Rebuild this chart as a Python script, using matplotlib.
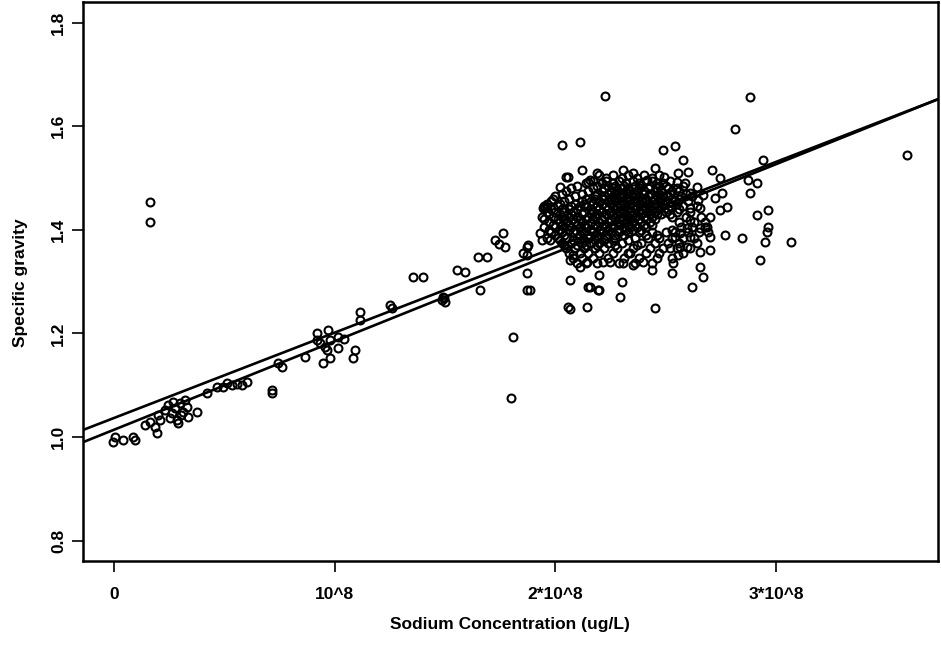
import numpy as np
import matplotlib
matplotlib.use("Agg")
import matplotlib.pyplot as plt

plt.rcParams['font.family'] = ['Liberation Sans', 'DejaVu Sans']

# sodium (units of 10^8 ug/L) and specific gravity
low_x = [-0.005, 0.005, 0.04, 0.086, 0.095, 0.14, 0.163, 0.186, 0.195, 0.21, 0.20,
         0.23, 0.245, 0.263, 0.276, 0.285, 0.29, 0.30, 0.313, 0.33, 0.335, 0.32, 0.267,
         0.254, 0.305, 0.376, 0.42, 0.467, 0.494, 0.535, 0.58, 0.603, 0.51, 0.557,
         0.716, 0.716, 0.745, 0.76, 0.865]
low_y = [0.990, 1.000, 0.994, 1.000, 0.994, 1.023, 1.029, 1.020, 1.008, 1.033, 1.042,
         1.052, 1.062, 1.046, 1.056, 1.033, 1.027, 1.066, 1.048, 1.058, 1.039, 1.071, 1.068,
         1.037, 1.043, 1.048, 1.085, 1.097, 1.097, 1.100, 1.100, 1.106, 1.104, 1.102,
         1.091, 1.085, 1.143, 1.135, 1.154]

mid_x = [0.163, 0.163,
         0.92, 0.92, 0.933, 0.97, 0.979, 1.015, 1.04, 1.015, 0.965, 0.979, 0.947, 1.092,
         1.083, 0.956, 1.115, 1.115, 1.25, 1.26, 1.355, 1.40, 1.49, 1.50, 1.486, 1.495,
         1.554, 1.59, 1.658, 1.65, 1.69, 1.726, 1.763, 1.77, 1.745, 1.81, 1.80,
         1.87, 1.87, 1.87, 1.87, 1.885, 1.853, 1.876]
mid_y = [1.454, 1.415,
         1.200, 1.187, 1.181, 1.207, 1.187, 1.193, 1.190, 1.172, 1.168, 1.152, 1.143, 1.168,
         1.152, 1.174, 1.241, 1.226, 1.255, 1.249, 1.309, 1.309, 1.270, 1.261, 1.264, 1.268,
         1.322, 1.319, 1.284, 1.347, 1.347, 1.380, 1.394, 1.367, 1.372, 1.193, 1.075,
         1.367, 1.351, 1.317, 1.284, 1.284, 1.355, 1.371]

# dense cluster, listed row by row (gravity level, sodium values)
core_y = [1.505, 1.495, 1.485, 1.475, 1.465, 1.455, 1.445, 1.435, 1.425, 1.415,
          1.405, 1.395, 1.385, 1.375, 1.365, 1.355, 1.345, 1.335,
          1.500, 1.490, 1.480, 1.470, 1.460, 1.450, 1.440, 1.430, 1.420, 1.410,
          1.400, 1.390, 1.380, 1.370]
core_rows = [
    [2.20, 2.26, 2.33, 2.40, 2.47],
    [2.17, 2.23, 2.29, 2.35, 2.41, 2.44, 2.52],
    [2.10, 2.19, 2.24, 2.27, 2.31, 2.36, 2.39, 2.43, 2.47, 2.50, 2.58],
    [2.05, 2.15, 2.21, 2.25, 2.28, 2.32, 2.34, 2.37, 2.40, 2.45, 2.48, 2.53, 2.56],
    [2.00, 2.09, 2.18, 2.22, 2.26, 2.29, 2.31, 2.35, 2.38, 2.42, 2.46, 2.49, 2.51, 2.57, 2.62],
    [1.98, 2.04, 2.12, 2.16, 2.20, 2.24, 2.27, 2.30, 2.33, 2.36, 2.39, 2.41, 2.44, 2.47,
     2.50, 2.54, 2.60],
    [1.95, 2.01, 2.07, 2.11, 2.14, 2.19, 2.23, 2.26, 2.28, 2.32, 2.35, 2.37, 2.40, 2.43,
     2.46, 2.48, 2.52, 2.58, 2.64],
    [1.96, 2.00, 2.04, 2.08, 2.13, 2.17, 2.21, 2.25, 2.29, 2.31, 2.34, 2.38, 2.42, 2.45,
     2.50, 2.55, 2.61],
    [1.94, 1.99, 2.03, 2.06, 2.10, 2.15, 2.18, 2.22, 2.27, 2.30, 2.33, 2.36, 2.40, 2.44,
     2.53, 2.59, 2.66],
    [1.97, 2.02, 2.05, 2.09, 2.12, 2.16, 2.20, 2.24, 2.28, 2.32, 2.35, 2.39, 2.43, 2.56, 2.63],
    [1.95, 2.00, 2.04, 2.07, 2.11, 2.14, 2.19, 2.23, 2.26, 2.31, 2.34, 2.37, 2.41, 2.57,
     2.62, 2.68],
    [1.98, 2.03, 2.08, 2.13, 2.17, 2.21, 2.25, 2.29, 2.33, 2.38, 2.44, 2.50, 2.54, 2.60, 2.65],
    [1.96, 2.01, 2.05, 2.10, 2.15, 2.19, 2.23, 2.27, 2.36, 2.42, 2.47, 2.53, 2.58, 2.63],
    [2.03, 2.07, 2.12, 2.16, 2.20, 2.24, 2.30, 2.39, 2.45, 2.51, 2.56, 2.64],
    [2.05, 2.09, 2.13, 2.18, 2.22, 2.28, 2.35, 2.43, 2.49, 2.55, 2.61],
    [2.06, 2.11, 2.15, 2.20, 2.26, 2.33, 2.41, 2.47, 2.58],
    [2.08, 2.12, 2.17, 2.24, 2.31, 2.38, 2.46, 2.53],
    [2.10, 2.14, 2.19, 2.29, 2.36, 2.44],
    [2.23, 2.30, 2.37, 2.44],
    [2.14, 2.21, 2.26, 2.32, 2.38, 2.46, 2.49],
    [2.07, 2.17, 2.22, 2.26, 2.30, 2.33, 2.38, 2.42, 2.46, 2.51, 2.55],
    [2.03, 2.12, 2.19, 2.24, 2.27, 2.30, 2.33, 2.36, 2.40, 2.43, 2.47, 2.52, 2.59],
    [1.99, 2.06, 2.14, 2.18, 2.22, 2.25, 2.28, 2.32, 2.34, 2.37, 2.41, 2.45, 2.48, 2.53, 2.56],
    [1.96, 2.02, 2.09, 2.13, 2.17, 2.21, 2.25, 2.29, 2.31, 2.34, 2.38, 2.42, 2.45, 2.49, 2.55],
    [1.98, 2.03, 2.06, 2.10, 2.16, 2.20, 2.24, 2.27, 2.30, 2.33, 2.36, 2.39, 2.41, 2.44,
     2.47, 2.51, 2.56],
    [1.97, 2.02, 2.07, 2.12, 2.16, 2.19, 2.23, 2.26, 2.28, 2.32, 2.35, 2.39, 2.43, 2.46,
     2.48, 2.52],
    [1.95, 2.01, 2.04, 2.08, 2.11, 2.14, 2.17, 2.21, 2.25, 2.29, 2.31, 2.34, 2.38, 2.41, 2.45],
    [1.99, 2.03, 2.06, 2.10, 2.13, 2.18, 2.22, 2.26, 2.29, 2.33, 2.36, 2.40, 2.44],
    [1.97, 2.02, 2.06, 2.09, 2.12, 2.16, 2.20, 2.24, 2.28, 2.32, 2.35, 2.39, 2.53],
    [2.00, 2.04, 2.11, 2.15, 2.19, 2.23, 2.27, 2.31, 2.41, 2.46],
    [2.02, 2.08, 2.13, 2.18, 2.22, 2.26, 2.33],
    [2.04, 2.10, 2.14, 2.19, 2.27, 2.37],
]

outer_x = [2.225, 2.882, 2.814, 3.593, 2.03, 2.11, 2.488, 2.542, 2.94, 2.578,
           2.057, 2.065, 2.143, 2.45, 2.066, 2.148, 2.193, 2.20, 2.30, 2.293,
           2.62, 2.67, 2.655, 2.44, 2.528, 2.533, 2.927, 3.07, 2.95, 2.96, 2.963,
           2.913, 2.963, 2.845, 2.77, 2.873, 2.913, 2.88, 2.746, 2.755, 2.71, 2.78,
           2.746, 2.70, 2.687, 2.70, 2.70, 2.655, 2.61, 2.61, 2.655, 2.596, 2.555,
           1.93, 1.94, 1.975, 1.944, 1.962, 1.953, 2.02, 2.057, 2.05, 2.12, 2.157,
           2.19, 2.148, 2.306, 2.35, 2.45, 2.494, 2.555, 2.60, 2.55, 2.415,
           2.066, 2.11, 2.143, 2.216, 2.247, 2.306, 2.35, 2.397, 2.338, 2.08,
           2.61, 2.678, 2.655, 2.69, 2.596, 2.565, 2.542, 2.565, 2.52, 2.64, 2.67,
           2.61, 2.587, 2.646, 2.157, 2.20, 2.725]
outer_y = [1.658, 1.656, 1.595, 1.544, 1.564, 1.570, 1.554, 1.562, 1.535, 1.535,
           1.251, 1.247, 1.251, 1.249, 1.303, 1.290, 1.284, 1.313, 1.300, 1.270,
           1.290, 1.309, 1.328, 1.322, 1.317, 1.336, 1.342, 1.376, 1.376, 1.396, 1.405,
           1.429, 1.438, 1.384, 1.390, 1.496, 1.490, 1.471, 1.500, 1.471, 1.515, 1.444,
           1.438, 1.425, 1.405, 1.386, 1.361, 1.357, 1.386, 1.419, 1.442, 1.367, 1.351,
           1.394, 1.380, 1.380, 1.442, 1.444, 1.442, 1.483, 1.502, 1.502, 1.515, 1.496,
           1.510, 1.492, 1.515, 1.510, 1.519, 1.502, 1.510, 1.512, 1.492, 1.496,
           1.342, 1.328, 1.338, 1.338, 1.338, 1.336, 1.332, 1.338, 1.355, 1.351,
           1.442, 1.415, 1.403, 1.396, 1.403, 1.394, 1.386, 1.367, 1.365, 1.483, 1.467,
           1.471, 1.490, 1.458, 1.290, 1.284, 1.462]

# two fitted lines: intercept, slope per 10^8
fit_a = [1.0367, 0.1648]
fit_b = [1.014, 0.1709]

core_x = [v for row in core_rows for v in row]
core_yy = [yv for yv, row in zip(core_y, core_rows) for _ in row]

xs = np.array(low_x + mid_x + core_x + outer_x) * 1e8
ys = np.array(low_y + mid_y + core_yy + outer_y)

fig = plt.figure(figsize=(9.41, 6.52), dpi=100)
ax = fig.add_axes([83/941, 1-561/652, (938-83)/941, (561-2)/652])

ax.plot(xs, ys, 'o', ms=5.7, mfc='none', mec='black', mew=1.5, ls='none')

xl = np.array([-0.1405, 3.734])
for a, b in (fit_a, fit_b):
    ax.plot(xl * 1e8, a + b * xl, color='black', lw=1.9)

ax.set_xlim(-0.1405e8, 3.734e8)
ax.set_ylim(0.7606, 1.8398)
ax.set_xticks([0, 1e8, 2e8, 3e8])
ax.set_xticklabels(['0', '10^8', '2*10^8', '3*10^8'])
ax.set_yticks([0.8, 1.0, 1.2, 1.4, 1.6, 1.8])
ax.set_yticklabels(['0.8', '1.0', '1.2', '1.4', '1.6', '1.8'])
for lab in ax.get_yticklabels():
    lab.set_rotation(90)
    lab.set_va('center')

ax.tick_params(axis='both', direction='out', length=8, width=1.2,
               labelsize=12.5)
ax.tick_params(axis='x', pad=11)
ax.tick_params(axis='y', pad=4)
for lab in ax.get_xticklabels() + ax.get_yticklabels():
    lab.set_fontweight('bold')
for sp in ax.spines.values():
    sp.set_linewidth(1.8)

fig.text(510/941, 1-624/652, 'Sodium Concentration (ug/L)', ha='center', va='center',
         fontsize=12.5, fontweight='bold')
fig.text(21/941, 1-283/652, 'Specific gravity', ha='center', va='center',
         rotation=90, fontsize=12.5, fontweight='bold')

fig.savefig('out.png', dpi=100)
